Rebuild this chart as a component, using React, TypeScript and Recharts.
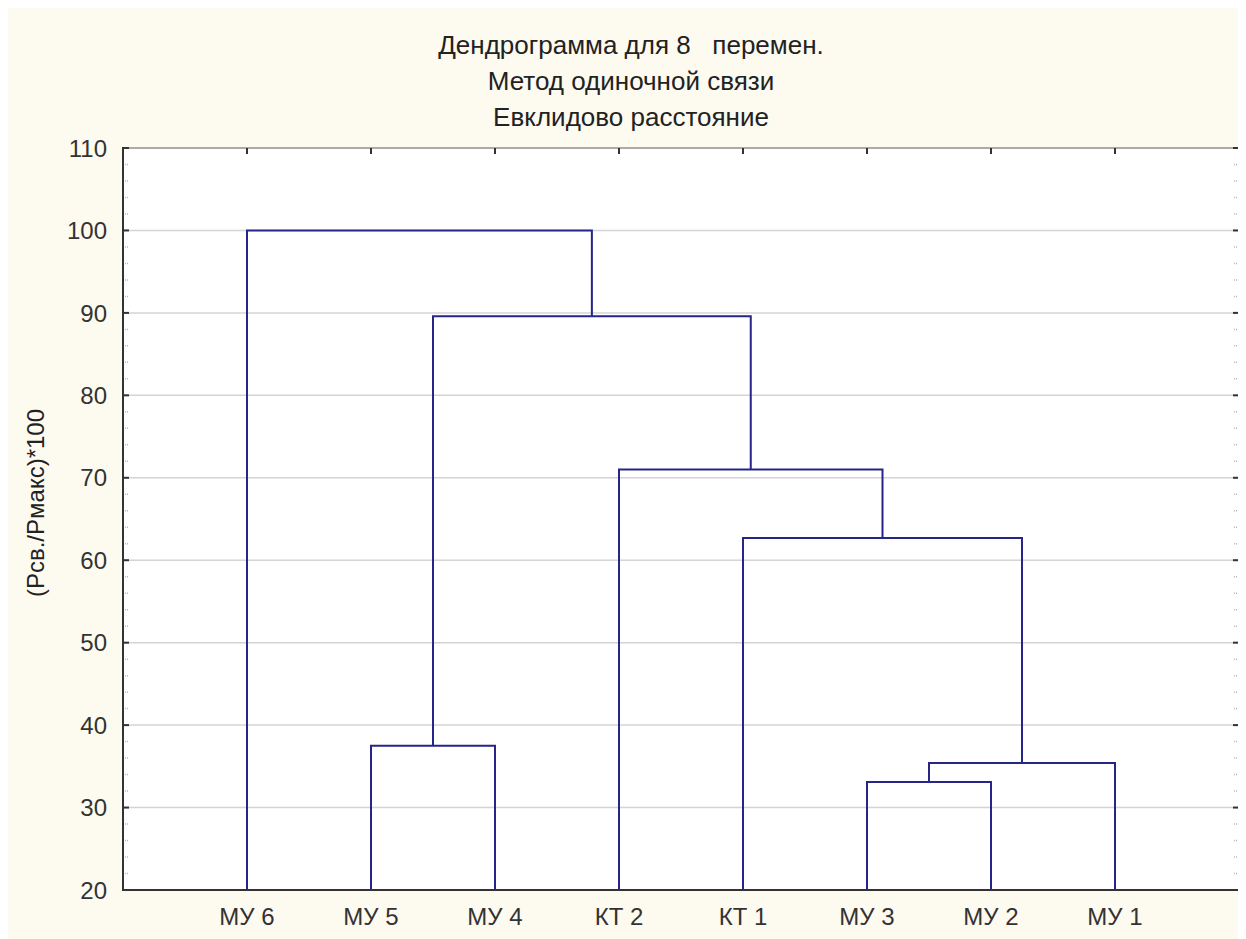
import React from "react";
import {
  ComposedChart,
  Line,
  XAxis,
  YAxis,
  CartesianGrid,
} from "recharts";

// leaves in dendrogram order (left to right)
const LEAVES = ["МУ 6", "МУ 5", "МУ 4", "КТ 2", "КТ 1", "МУ 3", "МУ 2", "МУ 1"];

// merge steps: left / right child ("#n" = earlier merge), joining distance
const MERGE_LEFT = ["МУ 3", "#0", "МУ 5", "КТ 1", "КТ 2", "#2", "МУ 6"];
const MERGE_RIGHT = ["МУ 2", "МУ 1", "МУ 4", "#1", "#3", "#4", "#5"];
const MERGE_HEIGHT = [33.1, 35.4, 37.5, 62.7, 71.0, 89.6, 100];

const Y_TICKS = [20, 30, 40, 50, 60, 70, 80, 90, 100, 110];
const X_TICKS = LEAVES.map((_, i) => i + 1);

const TITLE = ["Дендрограмма для 8   перемен.", "Метод одиночной связи", "Евклидово расстояние"];
const Y_LABEL = "(Рсв./Рмакс)*100";

const BASE = 20;
const LINE = "#25258a";
const FRAME = "#333333";
const FONT = "'Liberation Sans', Arial, sans-serif";

const W = 1238;
const H = 931;
const M = { top: 140, right: 7, bottom: 0, left: 0 };
const Y_AXIS_W = 115;
const X_AXIS_H = 49;
const PLOT_L = M.left + Y_AXIS_W;
const PLOT_R = W - M.right;
const PLOT_T = M.top;
const PLOT_B = H - M.bottom - X_AXIS_H;
const STEP = (PLOT_B - PLOT_T) / (Y_TICKS.length - 1);

type Node = { x: number; h: number };

function nodeOf(ref: string, done: Node[]): Node {
  if (ref.startsWith("#")) return done[Number(ref.slice(1))];
  return { x: LEAVES.indexOf(ref) + 1, h: BASE };
}

function buildLinks() {
  const done: Node[] = [];
  const links: { x: number; y: number }[][] = [];
  MERGE_HEIGHT.forEach((h, i) => {
    const l = nodeOf(MERGE_LEFT[i], done);
    const r = nodeOf(MERGE_RIGHT[i], done);
    links.push([
      { x: l.x, y: l.h },
      { x: l.x, y: h },
      { x: r.x, y: h },
      { x: r.x, y: r.h },
    ]);
    done.push({ x: (l.x + r.x) / 2, h });
  });
  return links;
}

const links = buildLinks();

// y tick: label + inward ticks on both sides, minor ticks below it
function YTick(props: any) {
  const { x, y, payload } = props;
  const minors = [];
  if (payload.value > Y_TICKS[0]) {
    for (let k = 1; k < 5; k++) {
      const yy = y + (STEP * k) / 5;
      minors.push(
        <g key={k}>
          <line x1={PLOT_L + 2} x2={PLOT_L + 5} y1={yy} y2={yy} stroke="#b8b8b8" strokeWidth={1.5} strokeDasharray="1 1" />
          <line x1={PLOT_R - 5} x2={PLOT_R - 2} y1={yy} y2={yy} stroke="#b8b8b8" strokeWidth={1.5} strokeDasharray="1 1" />
        </g>
      );
    }
  }
  return (
    <g>
      <line x1={PLOT_L} x2={PLOT_L + 6} y1={y} y2={y} stroke={FRAME} strokeWidth={2} />
      <line x1={PLOT_R - 6} x2={PLOT_R} y1={y} y2={y} stroke={FRAME} strokeWidth={2} />
      {minors}
      <text
        x={x}
        y={y}
        dy="0.36em"
        textAnchor="end"
        fill="#333"
        fontSize={24}
        fontFamily={FONT}
      >
        {payload.value}
      </text>
    </g>
  );
}

// x tick: label + short inward tick on the top border
function XTick(props: any) {
  const { x, y, payload } = props;
  return (
    <g>
      <line x1={x} x2={x} y1={PLOT_T} y2={PLOT_T + 6} stroke={FRAME} strokeWidth={2} />
      <text
        x={x}
        y={y}
        dy="0.71em"
        textAnchor="middle"
        fill="#333"
        fontSize={24}
        fontFamily={FONT}
      >
        {LEAVES[payload.value - 1]}
      </text>
    </g>
  );
}

export default function App() {
  return (
    <div
      style={{
        position: "relative",
        width: W,
        height: H,
        background: "#fdfaf0",
        fontFamily: FONT,
        color: "#222",
      }}
    >
      {TITLE.map((t, i) => (
        <div
          key={i}
          style={{
            position: "absolute",
            left: 0,
            width: 1246,
            top: 22 + i * 36,
            lineHeight: "30px",
            textAlign: "center",
            fontSize: 26,
            whiteSpace: "pre",
          }}
        >
          {t}
        </div>
      ))}
      <div
        style={{
          position: "absolute",
          left: 28 - 150,
          top: 495 - 15,
          width: 300,
          height: 30,
          lineHeight: "30px",
          textAlign: "center",
          fontSize: 24,
          transform: "rotate(-90deg)",
        }}
      >
        {Y_LABEL}
      </div>

      {/* plot background + frame, under the svg */}
      <div
        style={{
          position: "absolute",
          left: PLOT_L - 1,
          top: PLOT_T - 1,
          width: PLOT_R - PLOT_L + 2,
          height: PLOT_B - PLOT_T + 2,
          boxSizing: "border-box",
          border: `2px solid ${FRAME}`,
          background: "#ffffff",
        }}
      />

      <div style={{ position: "absolute", left: 0, top: 0 }}>
        <ComposedChart width={W} height={H} margin={M}>
          <CartesianGrid
            xAxisId="bottom"
            yAxisId="left"
            vertical={false}
            stroke="#d4d4d4"
            strokeWidth={1.5}
          />
          <XAxis
            xAxisId="bottom"
            type="number"
            dataKey="x"
            domain={[0, 9]}
            ticks={X_TICKS}
            height={X_AXIS_H}
            axisLine={{ stroke: FRAME, strokeWidth: 2 }}
            tickLine={false}
            tickSize={6}
            tickMargin={12}
            tick={<XTick />}
            allowDataOverflow
          />
          <YAxis
            yAxisId="left"
            type="number"
            domain={[20, 110]}
            ticks={Y_TICKS}
            width={Y_AXIS_W}
            axisLine={{ stroke: FRAME, strokeWidth: 2 }}
            tickLine={false}
            tickSize={6}
            tickMargin={10}
            tick={<YTick />}
            allowDataOverflow
          />
          {links.map((pts, i) => (
            <Line
              key={i}
              xAxisId="bottom"
              yAxisId="left"
              data={pts}
              dataKey="y"
              type="linear"
              stroke={LINE}
              strokeWidth={2}
              dot={false}
              activeDot={false}
              isAnimationActive={false}
            />
          ))}
        </ComposedChart>
      </div>
    </div>
  );
}
